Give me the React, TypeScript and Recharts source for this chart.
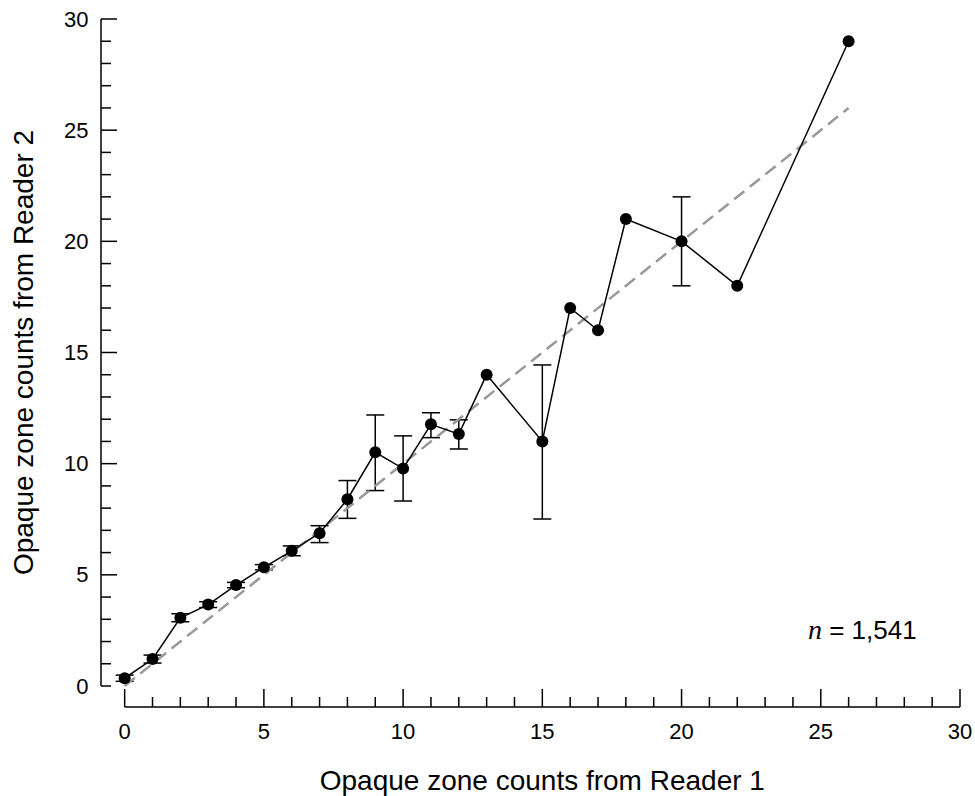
import { ComposedChart, Scatter, ErrorBar, XAxis, YAxis, ReferenceLine, ReferenceDot, Label } from 'recharts'

// opaque zone counts: reader 1 value and mean reader 2 value, with error below/above
const readerOne = [0, 1, 2, 3, 4, 5, 6, 7, 8, 9, 10, 11, 12, 13, 15, 16, 17, 18, 20, 22, 26]
const readerTwo = [0.35, 1.21, 3.07, 3.66, 4.54, 5.34, 6.08, 6.87, 8.4, 10.51, 9.78, 11.77, 11.33, 14, 11, 17, 16, 21, 20, 18, 29]
const errBelow = [0.14, 0.18, 0.18, 0.13, 0.12, 0.12, 0.22, 0.42, 0.86, 1.72, 1.46, 0.6, 0.67, null, 3.49, null, null, null, 2, null, null]
const errAbove = [0.14, 0.18, 0.18, 0.13, 0.12, 0.12, 0.22, 0.34, 0.84, 1.68, 1.47, 0.52, 0.64, null, 3.44, null, null, null, 2, null, null]

// 1:1 agreement line
const agreement = [0, 26]

const axisTicks = [0, 1, 2, 3, 4, 5, 6, 7, 8, 9, 10, 11, 12, 13, 14, 15, 16, 17, 18, 19, 20, 21, 22, 23, 24, 25, 26, 27, 28, 29, 30]

const sampleSize = '1,541'

const FONT = '"Liberation Sans", Arial, sans-serif'

// axes sit a little away from the origin
const X_MIN = -0.85
const Y_MIN = -0.945

const XTick = ({ x, y, payload }: any) => {
  const major = payload.value % 5 === 0
  return (
    <g>
      <line x1={x} y1={y} x2={x} y2={y - (major ? 18 : 10)} stroke="#000" strokeWidth={1.5} />
      {major && (
        <text x={x} y={y + 32} textAnchor="middle" fontSize={22} fontFamily={FONT} fill="#000">
          {payload.value}
        </text>
      )}
    </g>
  )
}

const YTick = ({ x, y, payload }: any) => {
  const labelled = payload.value % 5 === 0
  const long = labelled && payload.value !== 0
  return (
    <g>
      <line x1={x} y1={y} x2={x + (long ? 16 : 10)} y2={y} stroke="#000" strokeWidth={1.5} />
      {labelled && (
        <text x={x - 12.5} y={y + 7.6} textAnchor="end" fontSize={22} fontFamily={FONT} fill="#000">
          {payload.value}
        </text>
      )}
    </g>
  )
}

const XTitle = ({ viewBox }: any) => (
  <text
    x={viewBox.x + viewBox.width / 2}
    y={viewBox.y + 83}
    textAnchor="middle"
    fontSize={28}
    fontFamily={FONT}
    fill="#000"
  >
    Opaque zone counts from Reader 1
  </text>
)

const YTitle = ({ viewBox }: any) => {
  const x = viewBox.x - 68
  const y = viewBox.y + viewBox.height / 2
  return (
    <text
      x={x}
      y={y}
      transform={`rotate(-90 ${x} ${y})`}
      textAnchor="middle"
      fontSize={28}
      fontFamily={FONT}
      fill="#000"
    >
      Opaque zone counts from Reader 2
    </text>
  )
}

const SampleNote = ({ viewBox }: any) => (
  <text x={viewBox.x} y={viewBox.y} fontSize={26} fontFamily={FONT} fill="#000">
    <tspan fontFamily='"Liberation Serif", "Times New Roman", serif' fontStyle="italic" fontSize={28}>
      n
    </tspan>
    <tspan> = {sampleSize}</tspan>
  </text>
)

const Marker = ({ cx, cy }: any) => <circle cx={cx} cy={cy} r={6} fill="#000" />

export default function App() {
  const points = readerOne.map((x, i) => ({
    x,
    y: readerTwo[i],
    err: errBelow[i] == null ? null : [errBelow[i], errAbove[i]],
  }))

  return (
    <div style={{ position: 'absolute', left: 0, top: 0, background: '#fff' }}>
      <ComposedChart width={975} height={796} margin={{ top: 19, right: 15, bottom: 0, left: 61 }}>
        <XAxis
          type="number"
          dataKey="x"
          domain={[X_MIN, 30]}
          ticks={axisTicks}
          interval={0}
          axisLine={false}
          tickLine={false}
          tickSize={0}
          tickMargin={0}
          height={89}
          tick={<XTick />}
        />
        <YAxis
          type="number"
          dataKey="y"
          domain={[Y_MIN, 30]}
          ticks={axisTicks}
          interval={0}
          axisLine={false}
          tickLine={false}
          tickSize={0}
          tickMargin={0}
          width={40}
          tick={<YTick />}
        />

        {/* detached axis lines */}
        <ReferenceLine
          segment={[{ x: 0, y: Y_MIN }, { x: 30, y: Y_MIN }]}
          stroke="#000"
          strokeWidth={1.5}
          ifOverflow="visible"
        >
          <Label content={XTitle} />
        </ReferenceLine>
        <ReferenceLine
          segment={[{ x: X_MIN, y: 0 }, { x: X_MIN, y: 30 }]}
          stroke="#000"
          strokeWidth={1.5}
          ifOverflow="visible"
        >
          <Label content={YTitle} />
        </ReferenceLine>

        <Scatter
          data={points}
          fill="#000"
          line={{ stroke: '#000', strokeWidth: 1.5 }}
          shape={<Marker />}
          isAnimationActive={false}
        >
          <ErrorBar dataKey="err" direction="y" width={9} stroke="#000" strokeWidth={1.5} isAnimationActive={false} />
        </Scatter>

        <ReferenceLine
          segment={[
            { x: agreement[0], y: agreement[0] },
            { x: agreement[1], y: agreement[1] },
          ]}
          stroke="#999"
          strokeWidth={2.5}
          strokeDasharray="13 7"
          ifOverflow="visible"
        />

        <ReferenceDot x={24.54} y={2.1} r={0} fill="none" stroke="none" ifOverflow="visible">
          <Label content={SampleNote} />
        </ReferenceDot>
      </ComposedChart>
    </div>
  )
}
